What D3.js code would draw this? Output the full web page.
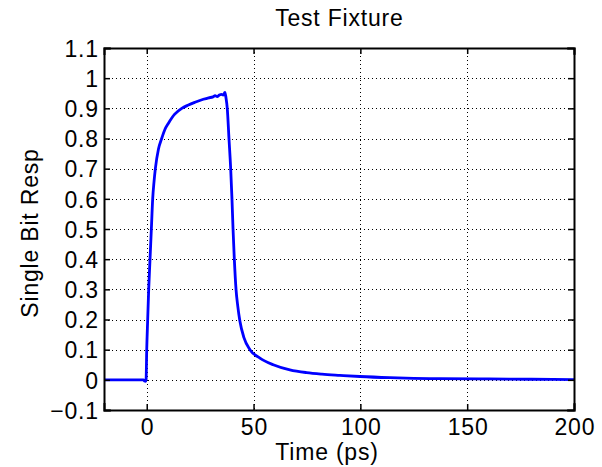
<!DOCTYPE html>
<html>
<head>
<meta charset="utf-8">
<script src="https://cdn.jsdelivr.net/npm/d3@7"></script>
<style>
  html, body { margin: 0; padding: 0; background: #fff; }
  svg text { font-family: "Liberation Sans", Arial, Helvetica, sans-serif; fill: #000; }
</style>
</head>
<body>
<svg id="chart" width="602" height="467"></svg>
<script>
// ---- Data ----
const timePs = [-20, -5, -1.5, -1, -0.5, -0.3, 0, 0.45, 0.92, 1.54, 2.17, 2.79, 3.4, 4.04, 5.5, 7.0, 8.5, 10.1, 13, 16.4, 19.5, 22.6, 26.5, 29, 31, 32, 33, 34, 35, 35.8, 36.6, 37.1, 37.7, 38.5, 39.3, 39.9, 40.4, 41.0, 41.8, 42.6, 43.6, 45.5, 48.3, 53, 59.2, 67, 74.8, 82, 90.4, 99.8, 113.8, 125, 137.2, 160, 180, 200];
const response = [0, 0, 0, -0.004, -0.005, 0, 0.1, 0.2, 0.3, 0.4, 0.5, 0.6, 0.655, 0.7, 0.765, 0.8, 0.83, 0.85, 0.88, 0.9, 0.911, 0.92, 0.93, 0.935, 0.938, 0.942, 0.939, 0.944, 0.946, 0.944, 0.953, 0.935, 0.9, 0.8, 0.7, 0.6, 0.5, 0.4, 0.3, 0.245, 0.195, 0.14, 0.1, 0.072, 0.05, 0.033, 0.024, 0.019, 0.015, 0.011, 0.007, 0.005, 0.004, 0.003, 0.002, 0.001];
const xTicks = [0, 50, 100, 150, 200];
const yTicks = [-0.1, 0, 0.1, 0.2, 0.3, 0.4, 0.5, 0.6, 0.7, 0.8, 0.9, 1, 1.1];
const titleText = "Test Fixture";
const xLabelText = "Time (ps)";
const yLabelText = "Single Bit Resp";

// ---- Layout ----
const mLeft = 104, mRight = 574, mTop = 48, mBottom = 410;
const svg = d3.select("#chart");

const x = d3.scaleLinear().domain([-20, 200]).range([mLeft, mRight]);
const y = d3.scaleLinear().domain([-0.1, 1.1]).range([mBottom, mTop]);

const fontSize = 23, ls = 0.8;

// grid
const grid = svg.append("g");
grid.selectAll("line.gx").data(xTicks).join("line")
  .attr("x1", d => Math.round(x(d)) + 0.5).attr("x2", d => Math.round(x(d)) + 0.5)
  .attr("y1", mTop).attr("y2", mBottom)
  .attr("stroke", "#000").attr("stroke-width", 1).attr("stroke-dasharray", "1,3");
grid.selectAll("line.gy").data(yTicks).join("line")
  .attr("y1", d => Math.round(y(d)) + 0.5).attr("y2", d => Math.round(y(d)) + 0.5)
  .attr("x1", mLeft).attr("x2", mRight)
  .attr("stroke", "#000").attr("stroke-width", 1).attr("stroke-dasharray", "1,3");

// data line
const line = d3.line().x((d, i) => x(timePs[i])).y(d => y(d)).curve(d3.curveMonotoneX);
svg.append("path").datum(response)
  .attr("d", line)
  .attr("fill", "none").attr("stroke", "#0000ff").attr("stroke-width", 2.8)
  .attr("stroke-linejoin", "round");

// axes (ticks inward)
const tickLen = 6;
const fmtY = d => (d < 0 ? "\u2212" + Math.abs(d) : String(d));
const axB = d3.axisBottom(x).tickValues(xTicks).tickSize(-tickLen).tickPadding(9).tickFormat(d => d);
const axT = d3.axisTop(x).tickValues(xTicks).tickSize(-tickLen).tickFormat("");
const axL = d3.axisLeft(y).tickValues(yTicks).tickSize(-tickLen).tickPadding(6).tickFormat(fmtY);
const axR = d3.axisRight(y).tickValues(yTicks).tickSize(-tickLen).tickFormat("");

function style(g) {
  g.select(".domain").attr("stroke", "#000").attr("stroke-width", 2);
  g.selectAll(".tick line").attr("stroke", "#000").attr("stroke-width", 1.5);
  g.selectAll(".tick text").attr("font-size", fontSize).attr("letter-spacing", ls + "px")
    .attr("font-family", "Liberation Sans, Arial, sans-serif");
}
svg.append("g").attr("transform", `translate(0,${mBottom})`).call(axB).call(style)
  .call(g => g.selectAll(".tick text").attr("dy", "0.71em").attr("dx", ls / 2));
svg.append("g").attr("transform", `translate(0,${mTop})`).call(axT).call(style);
svg.append("g").attr("transform", `translate(${mLeft},0)`).call(axL).call(style)
  .call(g => g.selectAll(".tick text").attr("dy", "0.36em").attr("dx", ls));
svg.append("g").attr("transform", `translate(${mRight},0)`).call(axR).call(style);
svg.selectAll(".domain").attr("stroke-linecap", "square");

// labels
svg.append("text").attr("x", (mLeft + mRight) / 2 + ls / 2).attr("y", 26)
  .attr("text-anchor", "middle").attr("font-size", fontSize).attr("letter-spacing", ls + "px")
  .text(titleText);
svg.append("text").attr("x", (mLeft + mRight) / 2 - 12).attr("y", 460)
  .attr("text-anchor", "middle").attr("font-size", fontSize).attr("letter-spacing", ls + "px")
  .text(xLabelText);
svg.append("text").attr("transform", `translate(38,${(mTop + mBottom) / 2 + 4}) rotate(-90)`)
  .attr("text-anchor", "middle").attr("font-size", fontSize).attr("letter-spacing", ls + "px")
  .text(yLabelText);
</script>
</body>
</html>
